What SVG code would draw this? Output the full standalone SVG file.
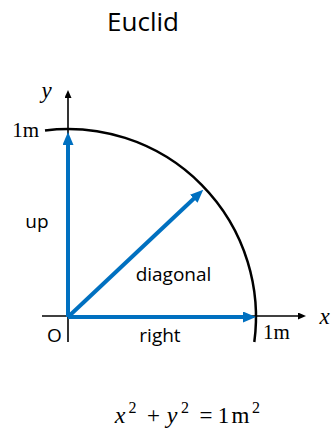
<svg xmlns="http://www.w3.org/2000/svg" width="335" height="430" viewBox="0 0 335 430">
<style>
.sans{font-family:"Open Sans","Liberation Sans",sans-serif;fill:#000}
.serif{font-family:"Liberation Serif","DejaVu Serif",serif;fill:#000}
.it{font-style:italic}
.blue{stroke:#0070C0;stroke-width:4;fill:none}
.axis{stroke:#000;stroke-width:1.6;fill:none}
</style>
<defs>
<marker id="bh" markerUnits="userSpaceOnUse" markerWidth="14" markerHeight="12" refX="1" refY="5.5" orient="auto">
<path d="M0,0 L13,5.5 L0,11 z" fill="#0070C0"/>
</marker>
<marker id="kh" markerUnits="userSpaceOnUse" markerWidth="9" markerHeight="8" refX="1" refY="3.5" orient="auto">
<path d="M0,0 L8,3.5 L0,7 z" fill="#000"/>
</marker>
</defs>
<rect width="335" height="430" fill="#fff"/>
<text class="sans" x="143" y="31" font-size="26" text-anchor="middle">Euclid</text>
<g id="axes">
<line class="axis" x1="68" y1="342" x2="68" y2="97" marker-end="url(#kh)"/>
<line class="axis" x1="42" y1="316" x2="299" y2="316" marker-end="url(#kh)"/>
<text class="serif it" x="46.5" y="98" font-size="23" text-anchor="middle">y</text>
<text class="serif it" x="324.5" y="324" font-size="23" text-anchor="middle">x</text>
<text class="sans" x="54.5" y="342" font-size="19" text-anchor="middle">O</text>
<text class="serif" x="39" y="137" font-size="21" text-anchor="end">1m</text>
<text class="serif" x="263" y="339" font-size="21">1m</text>
</g>
<g id="circle">
<path d="M45,130.4 A188,188 0 0 1 254.3,342" fill="none" stroke="#000" stroke-width="2.5"/>
</g>
<g id="connectors">
<line class="blue" x1="68" y1="317" x2="68" y2="144" marker-end="url(#bh)"/>
<line class="blue" x1="68" y1="317" x2="244" y2="317" marker-end="url(#bh)"/>
<line class="blue" x1="68" y1="317" x2="194.5" y2="198" marker-end="url(#bh)"/>
</g>
<g id="labels">
<text class="sans" x="37" y="228" font-size="19" text-anchor="middle">up</text>
<text class="sans" x="173.5" y="281" font-size="19" text-anchor="middle">diagonal</text>
<text class="sans" x="160" y="342" font-size="19" text-anchor="middle">right</text>
</g>
<g id="equation" class="serif">
<text class="serif it" x="120" y="423" font-size="24" text-anchor="middle">x</text>
<text x="132.5" y="413" font-size="16" text-anchor="middle">2</text>
<text x="153.5" y="423" font-size="23" text-anchor="middle">+</text>
<text class="serif it" x="172" y="423" font-size="24" text-anchor="middle">y</text>
<text x="185" y="413" font-size="16" text-anchor="middle">2</text>
<text x="206" y="423" font-size="23" text-anchor="middle">=</text>
<text x="223.5" y="423" font-size="23" text-anchor="middle">1</text>
<text x="240.5" y="423" font-size="23" text-anchor="middle">m</text>
<text x="256" y="413" font-size="16" text-anchor="middle">2</text>
</g>
</svg>
